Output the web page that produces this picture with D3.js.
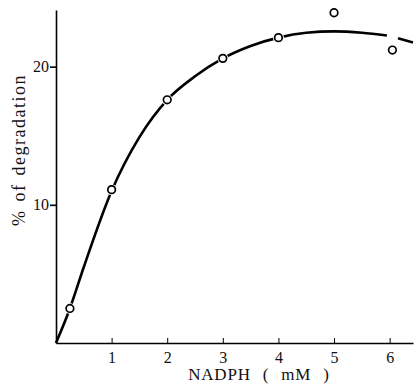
<!doctype html>
<html>
    <head>
        <style>
            body {margin:0; background:#fff}
            svg {display:block}
            .axis path, .axis line {stroke:#000; stroke-width:1.6px}
            text {font-family:"Liberation Serif", "DejaVu Serif", serif; fill:#111}
        </style>
        <script src="https://d3js.org/d3.v7.min.js"></script>
    </head>
    <body>
        <script>
            // measured points
            var nadph = [0.25, 1, 2, 3, 4, 5, 6.05];
            var degradation = [2.5, 11.1, 17.6, 20.6, 22.1, 23.9, 21.2];

            // fitted curve as drawn (null = gap in the line)
            var curveX = [0, 0.25, 0.5, 1, 1.5, 2, 2.5, 3, 3.5, 4, 4.5, 5, 5.5, 5.95, null, 6.15, 6.42];
            var curveY = [0, 2.5, 5.5, 11.0, 14.9, 17.6, 19.3, 20.6, 21.5, 22.1, 22.45, 22.55, 22.45, 22.25, null, 22.05, 21.75];

            var xTicks = [1, 2, 3, 4, 5, 6];
            var yTicks = [10, 20];

            var width = 415, height = 387;
            var svg = d3.select("body").append("svg")
                .attr("width", width).attr("height", height);

            var x = d3.scaleLinear().domain([0, 6.42]).range([56, 413]);
            var y = d3.scaleLinear().domain([0, 24.1]).range([343, 10]);

            //x axis, small ticks pointing up
            var xAxis = svg.append("g").attr("class", "axis")
                .attr("transform", "translate(0," + y(0) + ")")
                .call(d3.axisBottom(x).tickValues(xTicks).tickFormat(d3.format("d"))
                    .tickSize(-5).tickSizeOuter(0).tickPadding(9));
            xAxis.selectAll("line").style("stroke-width", "1px");
            xAxis.selectAll("text").style("font-size", "16px");

            //y axis
            var yAxis = svg.append("g").attr("class", "axis")
                .attr("transform", "translate(" + x(0) + ",0)")
                .call(d3.axisLeft(y).tickValues(yTicks).tickFormat(d3.format("d"))
                    .tickSize(6).tickSizeOuter(0).tickPadding(1));
            yAxis.selectAll("text").style("font-size", "16px");

            //labels
            svg.append("text")
                .attr("x", 259).attr("y", 380)
                .attr("text-anchor", "middle")
                .style("font-size", "17px")
                .style("letter-spacing", "0.8px")
                .style("word-spacing", "7px")
                .text("NADPH ( mM )");

            svg.append("text")
                .attr("transform", "translate(25,150) rotate(-90)")
                .attr("text-anchor", "middle")
                .style("font-size", "18px")
                .style("letter-spacing", "1.5px")
                .style("word-spacing", "2px")
                .text("% of degradation");

            //curve
            var line = d3.line()
                .defined(function(d, i){ return curveX[i] !== null; })
                .x(function(d, i){ return x(curveX[i]); })
                .y(function(d, i){ return y(curveY[i]); })
                .curve(d3.curveMonotoneX);

            svg.append("path")
                .datum(curveX)
                .attr("d", line)
                .attr("fill", "none")
                .attr("stroke", "#000")
                .attr("stroke-width", 2.6);

            //points with white halo so the line breaks around them
            var pts = svg.append("g").selectAll("circle")
                .data(nadph)
                .enter();
            pts.append("circle")
                .attr("cx", function(d){ return x(d); })
                .attr("cy", function(d, i){ return y(degradation[i]); })
                .attr("r", 5.5)
                .attr("fill", "#fff");
            pts.append("circle")
                .attr("cx", function(d){ return x(d); })
                .attr("cy", function(d, i){ return y(degradation[i]); })
                .attr("r", 3.8)
                .attr("fill", "#fff")
                .attr("stroke", "#000")
                .attr("stroke-width", 1.7);
        </script>
    </body>
</html>
